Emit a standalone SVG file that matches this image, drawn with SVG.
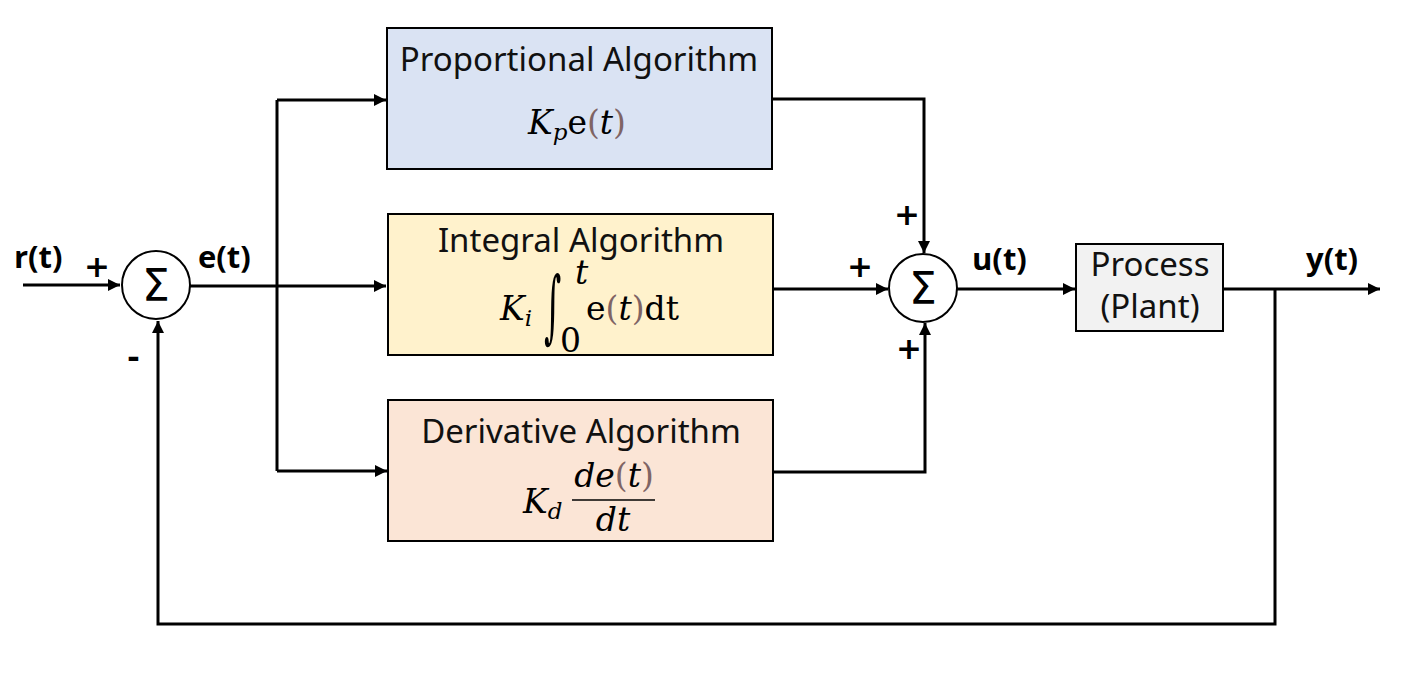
<svg xmlns="http://www.w3.org/2000/svg" width="1401" height="673" viewBox="0 0 1401 673">
<style>
.box{stroke:#000;stroke-width:2}
.ttl{font-family:"Noto Sans","Open Sans",sans-serif;font-size:33px;fill:#111;text-anchor:middle}
.m{font-family:"DejaVu Serif","Liberation Serif",serif;font-size:33px;fill:#000}
.mi{font-style:italic}
.par{fill:#7f6464}
.lbl{font-family:"Open Sans","DejaVu Sans",sans-serif;font-weight:bold;font-size:31px;fill:#000}
.pm{font-family:"DejaVu Sans",sans-serif;font-weight:bold;font-size:31px;fill:#000}
.sig{font-family:"DejaVu Sans","Noto Sans",sans-serif;font-size:44px;fill:#000;text-anchor:middle}
.ln{fill:none;stroke:#000;stroke-width:3}
.circ{fill:#fff;stroke:#000;stroke-width:2}
</style>
<defs>
<marker id="ah" viewBox="0 0 10 10" refX="10" refY="5" markerWidth="4" markerHeight="4" orient="auto" markerUnits="strokeWidth">
<path d="M0,0 L10,5 L0,10 z" fill="#000"/>
</marker>
</defs>
<rect width="1401" height="673" fill="#fff"/>
<g id="connectors">
<path class="ln" d="M23,285 H120" marker-end="url(#ah)"/>
<path class="ln" d="M190,286 H386" marker-end="url(#ah)"/>
<path class="ln" d="M277,100 V471"/>
<path class="ln" d="M277,100 H386" marker-end="url(#ah)"/>
<path class="ln" d="M277,471 H387" marker-end="url(#ah)"/>
<path class="ln" d="M772,99 H924 V253" marker-end="url(#ah)"/>
<path class="ln" d="M773,289 H888" marker-end="url(#ah)"/>
<path class="ln" d="M773,472 H925 V323" marker-end="url(#ah)"/>
<path class="ln" d="M957,289 H1075" marker-end="url(#ah)"/>
<path class="ln" d="M1223,289 H1380" marker-end="url(#ah)"/>
<path class="ln" d="M1275,289 V624 H158 V321" marker-end="url(#ah)"/>
</g>
<g id="sum1">
<circle class="circ" cx="156" cy="285" r="34"/>
<text class="sig" x="156" y="301">Σ</text>
</g>
<g id="sum2">
<circle class="circ" cx="923" cy="288" r="34"/>
<text class="sig" x="923" y="304">Σ</text>
</g>
<g id="proportional">
<rect class="box" x="387" y="28" width="385" height="141" fill="#dae3f3"/>
<text class="ttl" x="579" y="71">Proportional Algorithm</text>
<text class="m" x="528" y="134"><tspan class="mi">K</tspan><tspan class="mi" font-size="23" dy="6">p</tspan><tspan dy="-6">e</tspan><tspan class="par">(</tspan><tspan class="mi">t</tspan><tspan class="par">)</tspan></text>
</g>
<g id="integral">
<rect class="box" x="388" y="214" width="385" height="141" fill="#fff2cc"/>
<text class="ttl" x="581" y="252">Integral Algorithm</text>
<text class="m mi" x="500" y="320">K<tspan font-size="23" dy="6">i</tspan></text>
<text class="m" x="0" y="0" font-size="80" transform="translate(544,333) scale(1,2.4)">∫</text>
<text class="m mi" x="575" y="284" font-size="23">t</text>
<text class="m" x="560" y="352" font-size="23">0</text>
<text class="m" x="586" y="320">e<tspan class="par">(</tspan><tspan class="mi">t</tspan><tspan class="par">)</tspan>dt</text>
</g>
<g id="derivative">
<rect class="box" x="388" y="400" width="385" height="141" fill="#fbe5d6"/>
<text class="ttl" x="581" y="443">Derivative Algorithm</text>
<text class="m mi" x="523" y="513">K<tspan font-size="23" dy="6">d</tspan></text>
<text class="m" x="614" y="487" text-anchor="middle"><tspan class="mi">de</tspan><tspan class="par">(</tspan><tspan class="mi">t</tspan><tspan class="par">)</tspan></text>
<line x1="572" y1="500" x2="655" y2="500" stroke="#000" stroke-width="1.5"/>
<text class="m mi" x="613" y="531" text-anchor="middle">dt</text>
</g>
<g id="process">
<rect class="box" x="1076" y="244" width="147" height="87" fill="#f2f2f2"/>
<text class="ttl" x="1150" y="276" font-size="30">Process</text>
<text class="ttl" x="1150" y="318" font-size="30">(Plant)</text>
</g>
<g id="labels">
<text class="lbl" x="14" y="268">r(t)</text>
<text class="pm" x="84" y="277">+</text>
<text class="lbl" x="198" y="268">e(t)</text>
<text class="pm" x="127" y="368">-</text>
<text class="pm" x="894" y="225">+</text>
<text class="pm" x="847" y="277">+</text>
<text class="pm" x="896" y="359">+</text>
<text class="lbl" x="972" y="270">u(t)</text>
<text class="lbl" x="1306" y="270">y(t)</text>
</g>
</svg>
